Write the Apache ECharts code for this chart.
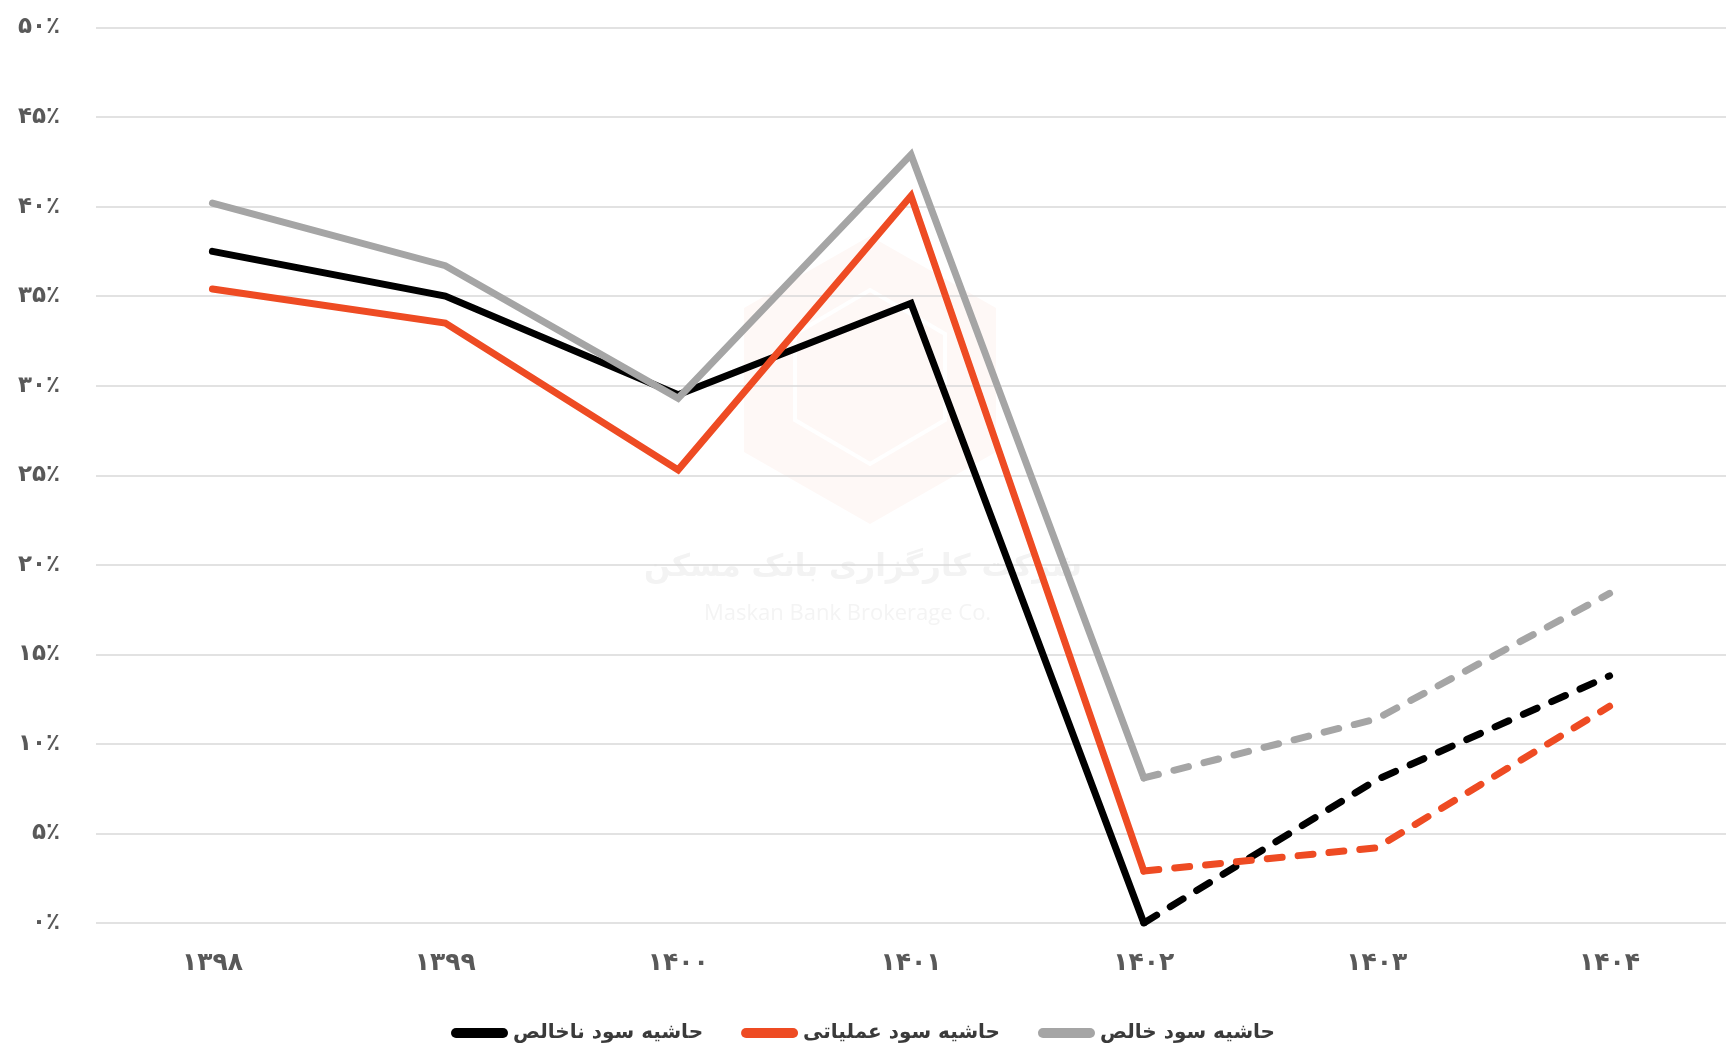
<!DOCTYPE html>
<html><head><meta charset="utf-8">
<script src="https://cdn.jsdelivr.net/npm/echarts@6/dist/echarts.min.js"></script>
<style>html,body{margin:0;padding:0;background:#fff}#c{width:1726px;height:1050px}</style>
</head><body><div id="c"></div>
<script>
const years = ['۱۳۹۸','۱۳۹۹','۱۴۰۰','۱۴۰۱','۱۴۰۲','۱۴۰۳','۱۴۰۴'];
const seriesNames = ['حاشیه سود ناخالص','حاشیه سود عملیاتی','حاشیه سود خالص'];
const grossActual = [37.5, 35.0, 29.5, 34.6, 0.0, null, null];
const grossForecast = [null, null, null, null, 0.0, 8.0, 13.8];
const operActual = [35.4, 33.5, 25.3, 40.6, 2.9, null, null];
const operForecast = [null, null, null, null, 2.9, 4.2, 12.1];
const netActual = [40.2, 36.7, 29.3, 42.9, 8.1, null, null];
const netForecast = [null, null, null, null, 8.1, 11.4, 18.4];
const yTickValues = [0,5,10,15,20,25,30,35,40,45,50];
const yTickLabels = ['۰٪','۵٪','۱۰٪','۱۵٪','۲۰٪','۲۵٪','۳۰٪','۳۵٪','۴۰٪','۴۵٪','۵۰٪'];
const colors = ['#000000','#ee4b23','#a5a5a5'];

const chart = echarts.init(document.getElementById('c'), null, {renderer:'canvas'});
const FONT = 'DejaVu Sans';
function solid(name, data, color){
  return {name, type:'line', data, symbol:'none', smooth:false, z:3,
    lineStyle:{color, width:7, cap:'round', join:'miter'}, itemStyle:{color}};
}
function dashed(name, data, color){
  return {name, type:'line', data, symbol:'none', smooth:false, z:3,
    lineStyle:{color, width:7, type:[15,16], cap:'round', join:'round'}, itemStyle:{color}};
}
chart.setOption({
  animation:false,
  backgroundColor:'#ffffff',
  grid:{left:96, right:0, top:27.5, bottom:127},
  legend:{
    data:seriesNames, bottom:2, left:'center', itemWidth:57, itemHeight:10, itemGap:38,
    icon:'path://M5,0 H52 A5,5 0 0 1 52,10 H5 A5,5 0 0 1 5,0 Z',
    textStyle:{fontFamily:FONT, fontSize:20, color:'#3a3a3a', fontWeight:'bold', padding:[0,0,0,0]}
  },
  graphic:[
    {type:'polygon', silent:true, z:0, shape:{points:[[870,236],[996,308],[996,452],[870,524],[744,452],[744,308]]},
      style:{fill:'rgba(238,75,35,0.04)'}},
    {type:'polygon', silent:true, z:0, shape:{points:[[870,290],[945,334],[945,420],[870,464],[795,420],[795,334]]},
      style:{fill:'none', stroke:'#ffffff', lineWidth:4}},
    {type:'text', silent:true, z:0, left:'center', top:552, style:{text:'شرکت کارگزاری بانک مسکن', font:'bold 31px "DejaVu Sans"', fill:'#f3f3f3'}},
    {type:'text', silent:true, z:0, left:704, top:603, style:{text:'Maskan Bank Brokerage Co.', font:'22px "Open Sans"', fill:'#f4f4f4'}}
  ],
  xAxis:{
    type:'category', data:years, boundaryGap:true,
    axisLine:{show:false}, axisTick:{show:false},
    axisLabel:{fontFamily:FONT, fontSize:25, fontWeight:'bold', color:'#595959', margin:28}
  },
  yAxis:{
    type:'value', min:0, max:50, interval:5,
    axisLine:{show:false}, axisTick:{show:false},
    splitLine:{lineStyle:{color:'#d9d9d9', width:1.5}},
    axisLabel:{fontFamily:FONT, fontSize:23, fontWeight:'bold', color:'#595959', margin:36,
      formatter:function(v){ const i = yTickValues.indexOf(v); return i>=0 ? yTickLabels[i] : ''; }}
  },
  series:[
    solid(seriesNames[0], grossActual, colors[0]),
    solid(seriesNames[1], operActual, colors[1]),
    solid(seriesNames[2], netActual, colors[2]),
    dashed(seriesNames[0], grossForecast, colors[0]),
    dashed(seriesNames[1], operForecast, colors[1]),
    dashed(seriesNames[2], netForecast, colors[2])
  ]
});
</script></body></html>
